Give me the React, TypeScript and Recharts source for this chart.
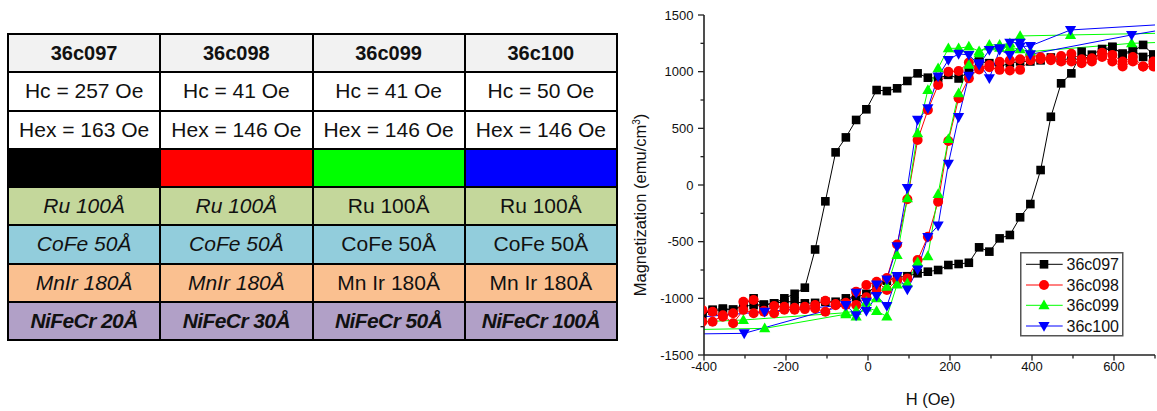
import React from 'react';
import { LineChart, Line, XAxis, YAxis, Legend } from 'recharts';

const FONT = 'Arial, "Liberation Sans", sans-serif';

const sampleNames = ['36c097', '36c098', '36c099', '36c100'];
const sampleColors = ['#000000', '#ff0000', '#00ff00', '#0000ff'];
const sampleMarkers = ['square', 'circle', 'up', 'down'];

// field sweeps (Oe) used by 36c097 and 36c098
const fieldDown = [696, 671, 646, 621, 596, 571, 546, 521, 496, 471, 446, 421, 396, 371, 346, 321, 296, 271, 246, 221, 196, 171, 146, 121, 96, 71, 46, 21, -4, -29, -54, -79, -104, -129, -154, -179, -204, -229, -254, -279, -304, -329, -354, -379, -404];
const fieldUp = [-404, -379, -354, -329, -304, -279, -254, -229, -204, -179, -154, -129, -104, -79, -54, -29, -4, 21, 46, 71, 96, 121, 146, 171, 196, 221, 246, 271, 296, 321, 346, 371, 396, 421, 446, 471, 496, 521, 546, 571, 596, 621, 646, 671, 696];

// magnetization (emu/cm3)
const m097Down = [1150, 1130, 1190, 1160, 1215, 1200, 1150, 1100, 1120, 1100, 1125, 1100, 1090, 1090, 1075, 1045, 1075, 1090, 1000, 940, 972, 942, 947, 985, 918, 853, 829, 838, 668, 574, 420, 288, -144, -569, -906, -960, -1000, -1044, -1059, -1000, -1060, -1100, -1100, -1110, -1120];
const m097Up = [-1150, -1100, -1090, -1100, -1070, -1060, -1055, -1044, -1030, -1030, -1044, -1040, -1030, -1030, -1000, -991, -960, -886, -845, -815, -805, -779, -765, -750, -706, -697, -686, -550, -588, -471, -441, -285, -168, 132, 602, 897, 985, 1176, 1110, 1170, 1220, 1150, 1180, 1236, 1150];

const m098Down = [1045, 1045, 1089, 1045, 1089, 1130, 1090, 1074, 1089, 1089, 1100, 1110, 1100, 1016, 1010, 1016, 1040, 1020, 1080, 1006, 1000, 882, 662, 397, -126, -525, -820, -930, -990, -1059, -1059, -1050, -1021, -1059, -1074, -1083, -1074, -1068, -1118, -1015, -1030, -1132, -1162, -1118, -1103];
const m098Up = [-1206, -1206, -1150, -1220, -1103, -1132, -1110, -1132, -1100, -1100, -1095, -1090, -1118, -1060, -1040, -941, -882, -853, -926, -838, -824, -662, -456, -147, 388, 765, 941, 1030, 1059, 1088, 1100, 1110, 1148, 1127, 1118, 1139, 1157, 1110, 1118, 1168, 1148, 1089, 1130, 1045, 1089];

const h099Down = [900, 643, 396, 371, 346, 321, 296, 271, 246, 221, 196, 171, 146, 121, 96, 71, 46, 21, -4, -29, -54, -304, -550];
const m099Down = [1280, 1250, 1177, 1198, 1215, 1210, 1225, 1180, 1221, 1206, 1206, 1030, 838, 456, -117, -618, -897, -1000, -1030, -1110, -1127, -1191, -1230];
const h099Up = [-550, -252, -54, -29, -4, 21, 46, 71, 96, 121, 146, 171, 196, 221, 246, 271, 296, 321, 346, 371, 494, 900];
const m099Up = [-1283, -1265, -1140, -1160, -1080, -1112, -1160, -877, -868, -681, -628, -79, 405, 810, 1060, 1162, 1236, 1236, 1250, 1315, 1324, 1352];

const h100Down = [900, 643, 396, 371, 346, 321, 296, 271, 246, 221, 196, 171, 146, 121, 96, 71, 46, 21, -4, -29, -54, -302, -550];
const m100Down = [1480, 1324, 1153, 1256, 1256, 1206, 1192, 1060, 1148, 1157, 1104, 957, 678, 575, -26, -540, -833, -877, -1030, -1150, -1059, -1309, -1320];
const h100Up = [-550, -252, -54, -29, -4, 21, 46, 71, 96, 121, 146, 171, 196, 221, 246, 271, 296, 321, 346, 371, 396, 494, 900];
const m100Up = [-1207, -1118, -1060, -951, -1112, -980, -1068, -804, -921, -745, -458, -358, 188, 599, 963, 1074, 942, 1192, 1148, 1221, 1227, 1368, 1455];

const xTicks = [-400, -300, -200, -100, 0, 100, 200, 300, 400, 500, 600, 700];
const xLabels = [-400, -200, 0, 200, 400, 600];
const yTicks = [-1500, -1250, -1000, -750, -500, -250, 0, 250, 500, 750, 1000, 1250, 1500];

// table
const hcRow = ['Hc = 257 Oe', 'Hc = 41 Oe', 'Hc = 41 Oe', 'Hc = 50 Oe'];
const hexRow = ['Hex = 163 Oe', 'Hex = 146 Oe', 'Hex = 146 Oe', 'Hex = 146 Oe'];
const ruRow = ['Ru 100Å', 'Ru 100Å', 'Ru 100Å', 'Ru 100Å'];
const cofeRow = ['CoFe 50Å', 'CoFe 50Å', 'CoFe 50Å', 'CoFe 50Å'];
const mnirRow = ['MnIr 180Å', 'MnIr 180Å', 'Mn Ir 180Å', 'Mn Ir 180Å'];
const nifecrRow = ['NiFeCr 20Å', 'NiFeCr 30Å', 'NiFeCr 50Å', 'NiFeCr 100Å'];
const italicCols = [true, true, false, false];

const pairUp = (hs: number[], ms: number[]) => hs.map((h, i) => ({ h, m: ms[i] }));

const loops = [
  [...pairUp(fieldDown, m097Down), ...pairUp(fieldUp, m097Up)],
  [...pairUp(fieldDown, m098Down), ...pairUp(fieldUp, m098Up)],
  [...pairUp(h099Down, m099Down), ...pairUp(h099Up, m099Up)],
  [...pairUp(h100Down, m100Down), ...pairUp(h100Up, m100Up)],
];

function Marker({ kind, cx, cy, color }: any) {
  if (kind === 'square') return <rect x={cx - 4.3} y={cy - 4.3} width={8.6} height={8.6} fill={color} />;
  if (kind === 'circle') return <circle cx={cx} cy={cy} r={5} fill={color} />;
  if (kind === 'up')
    return <path d={`M${cx},${cy - 5.8}L${cx + 5.6},${cy + 4}L${cx - 5.6},${cy + 4}Z`} fill={color} />;
  return <path d={`M${cx},${cy + 5.8}L${cx + 5.6},${cy - 4}L${cx - 5.6},${cy - 4}Z`} fill={color} />;
}

const AXIS = '#222';

function LeftTick({ x, y, payload }: any) {
  const major = payload.value % 500 === 0;
  return (
    <g>
      <line x1={x - (major ? 6 : 3.5)} x2={x} y1={y} y2={y} stroke={AXIS} strokeWidth={1.3} />
      {major && (
        <text x={x - 10.5} y={y + 4.6} textAnchor="end" fontSize={13} fontFamily={FONT} fill="#111">
          {payload.value}
        </text>
      )}
    </g>
  );
}

function RightTick({ x, y, payload }: any) {
  const major = payload.value % 500 === 0;
  return <line x1={x - (major ? 6 : 4)} x2={x} y1={y} y2={y} stroke={AXIS} strokeWidth={1.3} />;
}

function BottomTick({ x, y, payload }: any) {
  const major = xLabels.includes(payload.value);
  return (
    <g>
      <line x1={x} x2={x} y1={y} y2={y + (major ? 5.5 : 3.5)} stroke={AXIS} strokeWidth={1.3} />
      {major && (
        <text x={x} y={y + 15.5} textAnchor="middle" fontSize={13} fontFamily={FONT} fill="#111">
          {payload.value}
        </text>
      )}
    </g>
  );
}

function TopTick({ x, y, payload }: any) {
  const major = xLabels.includes(payload.value);
  return <line x1={x} x2={x} y1={y} y2={y + (major ? 5.5 : 4)} stroke={AXIS} strokeWidth={1.3} />;
}

function LegendBox() {
  const rows = [12.3, 33, 53.3, 74];
  return (
    <svg width={104} height={86} style={{ display: 'block' }}>
      <rect x={0.75} y={0.75} width={102} height={83} fill="#fff" stroke="#555" strokeWidth={1.5} />
      {sampleNames.map((name, i) => (
        <g key={name}>
          <line x1={6} x2={42.7} y1={rows[i]} y2={rows[i]} stroke={sampleColors[i]} strokeWidth={1} />
          <Marker kind={sampleMarkers[i]} cx={24} cy={rows[i]} color={sampleColors[i]} />
          <text x={46.5} y={rows[i] + 5.8} fontSize={16} fontFamily={FONT} fill="#111">
            {name}
          </text>
        </g>
      ))}
    </svg>
  );
}

const rowStyles: { bg: string; weight: number; size: number; italic: 'all' | 'some' | 'none' }[] = [
  { bg: '#f2f2f2', weight: 700, size: 20, italic: 'none' },
  { bg: '#ffffff', weight: 400, size: 21, italic: 'none' },
  { bg: '#ffffff', weight: 400, size: 21, italic: 'none' },
  { bg: '#ffffff', weight: 400, size: 21, italic: 'none' },
  { bg: '#c4d79b', weight: 400, size: 21, italic: 'some' },
  { bg: '#92cddc', weight: 400, size: 21, italic: 'some' },
  { bg: '#fac090', weight: 400, size: 21, italic: 'some' },
  { bg: '#b1a0c7', weight: 700, size: 21, italic: 'all' },
];

function LayerTable() {
  const rows = [sampleNames, hcRow, hexRow, ['', '', '', ''], ruRow, cofeRow, mnirRow, nifecrRow];
  return (
    <div
      style={{
        position: 'absolute',
        left: 7,
        top: 33,
        width: 611,
        height: 308,
        boxSizing: 'border-box',
        padding: 2,
        background: '#000',
        display: 'grid',
        gridTemplateColumns: 'repeat(4, 1fr)',
        gridTemplateRows: 'repeat(8, 1fr)',
        gap: 2,
        fontFamily: FONT,
      }}
    >
      {rows.map((row, r) =>
        row.map((txt, c) => {
          const st = rowStyles[r];
          const italic = st.italic === 'all' || (st.italic === 'some' && italicCols[c]);
          return (
            <div
              key={`${r}-${c}`}
              style={{
                background: r === 3 ? sampleColors[c] : st.bg,
                display: 'flex',
                alignItems: 'center',
                justifyContent: 'center',
                fontSize: st.size,
                fontWeight: st.weight,
                fontStyle: italic ? 'italic' : 'normal',
                letterSpacing: st.weight === 700 && r > 0 ? -0.6 : 0,
                color: '#111',
                whiteSpace: 'nowrap',
              }}
            >
              {txt}
            </div>
          );
        })
      )}
    </div>
  );
}

export default function App() {
  return (
    <div style={{ position: 'relative', width: 1157, height: 411, background: '#fff', overflow: 'hidden' }}>
      <style>{'body{margin:0;overflow:hidden;}'}</style>
      <LayerTable />
      <div style={{ position: 'absolute', left: 620, top: 0 }}>
        <LineChart width={537} height={411} margin={{ top: 15, right: 2, bottom: 0, left: 0 }}>
          <XAxis
            dataKey="h"
            type="number"
            domain={[-400, 700]}
            allowDataOverflow
            ticks={xTicks}
            interval={0}
            height={56}
            tickSize={0}
            tickMargin={0}
            tickLine={false}
            tick={<BottomTick />}
            axisLine={{ stroke: AXIS, strokeWidth: 1.6 }}
          />
          <XAxis
            xAxisId="top"
            orientation="top"
            dataKey="h"
            type="number"
            domain={[-400, 700]}
            allowDataOverflow
            ticks={xTicks}
            interval={0}
            height={0}
            tickSize={0}
            tickMargin={0}
            tickLine={false}
            tick={<TopTick />}
            axisLine={{ stroke: AXIS, strokeWidth: 1.6 }}
          />
          <YAxis
            type="number"
            domain={[-1500, 1500]}
            allowDataOverflow
            ticks={yTicks}
            interval={0}
            width={84}
            tickSize={0}
            tickMargin={0}
            tickLine={false}
            tick={<LeftTick />}
            axisLine={{ stroke: AXIS, strokeWidth: 1.6 }}
          />
          <YAxis
            yAxisId="right"
            orientation="right"
            type="number"
            domain={[-1500, 1500]}
            allowDataOverflow
            ticks={yTicks}
            interval={0}
            width={0}
            tickSize={0}
            tickMargin={0}
            tickLine={false}
            tick={<RightTick />}
            axisLine={{ stroke: AXIS, strokeWidth: 1.6 }}
          />
          {loops.map((data, i) => (
            <Line
              key={sampleNames[i]}
              data={data}
              dataKey="m"
              name={sampleNames[i]}
              stroke={sampleColors[i]}
              strokeWidth={1}
              isAnimationActive={false}
              activeDot={false}
              dot={(p: any) => (
                <Marker key={`${i}-${p.index}`} kind={sampleMarkers[i]} cx={p.cx} cy={p.cy} color={sampleColors[i]} />
              )}
            />
          ))}
          <Legend
            layout="vertical"
            align="center"
            verticalAlign="middle"
            content={() => <LegendBox />}
            wrapperStyle={{ left: 400, top: 252, width: 104, height: 86 }}
          />
          <text x={310.5} y={405} textAnchor="middle" fontSize={16.5} fontFamily={FONT} fill="#111">
            H (Oe)
          </text>
          <text
            x={25.5}
            y={205}
            textAnchor="middle"
            fontSize={16.5}
            fontFamily={FONT}
            fill="#111"
            transform="rotate(-90 25.5 205)"
          >
            Magnetization (emu/cm
            <tspan dy={-6} fontSize={10}>
              3
            </tspan>
            <tspan dy={6}>)</tspan>
          </text>
        </LineChart>
      </div>
    </div>
  );
}
